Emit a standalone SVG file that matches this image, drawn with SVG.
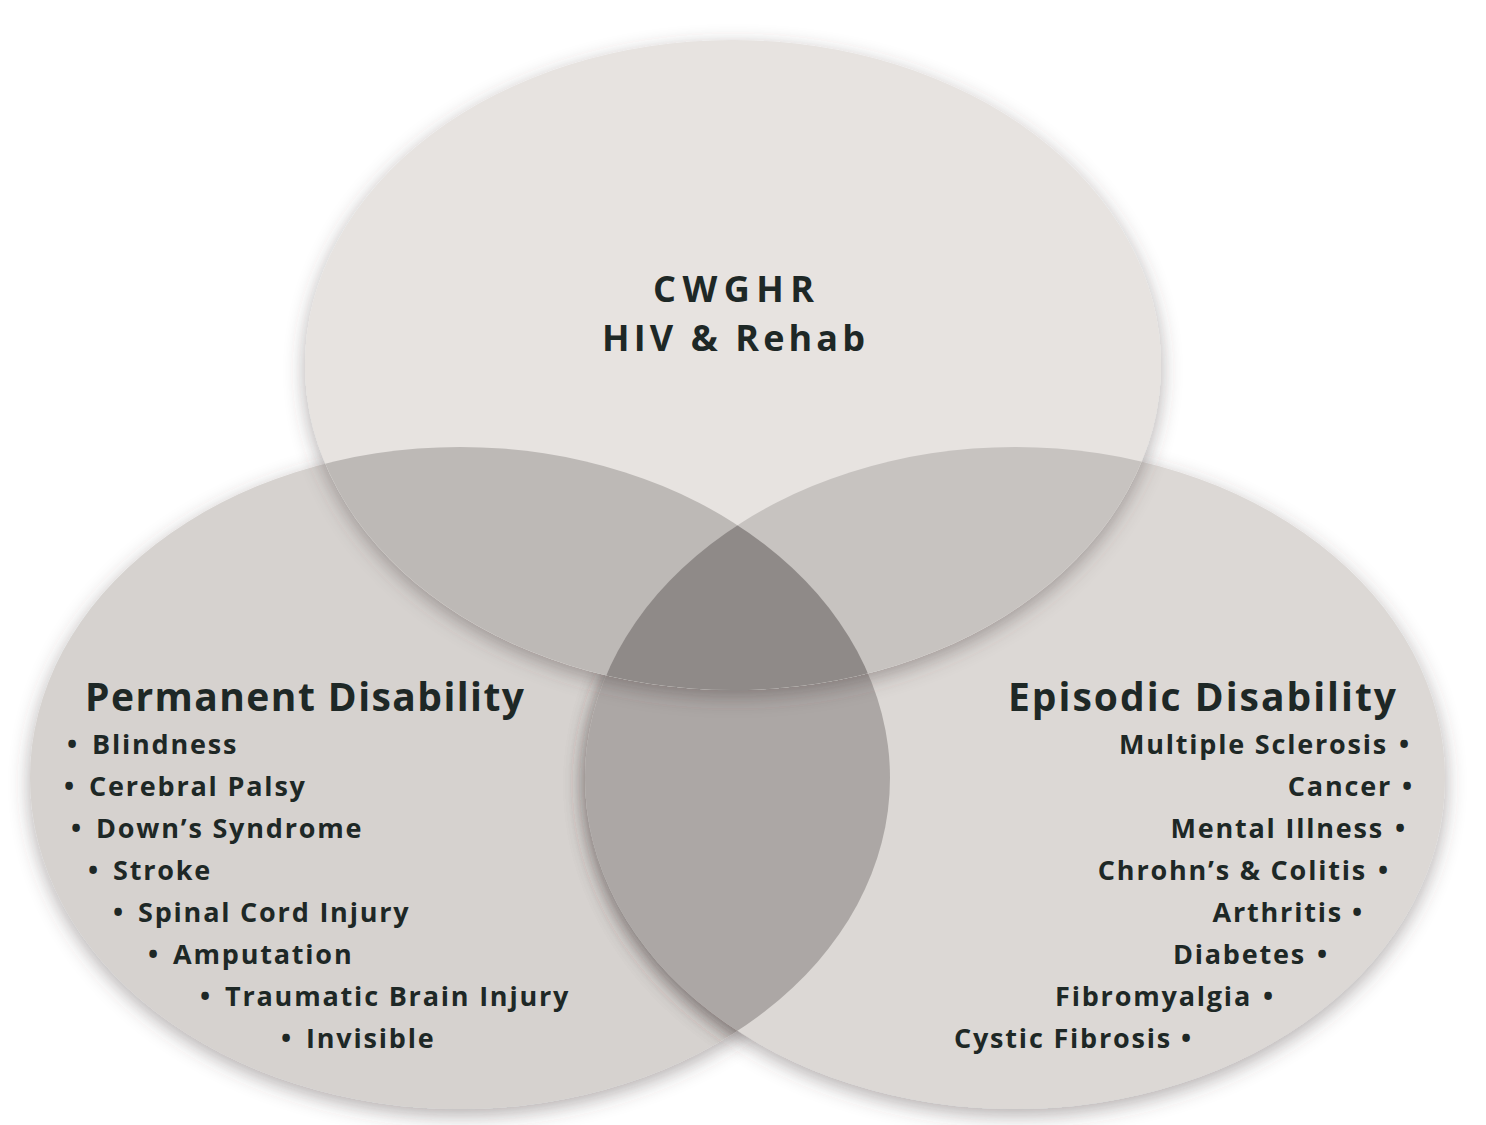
<svg xmlns="http://www.w3.org/2000/svg" width="1486" height="1125" viewBox="0 0 1486 1125">
<style>
.t{font-family:"Open Sans","Liberation Sans",sans-serif;font-weight:700;fill:#1e2826}
.h{font-size:39px;letter-spacing:1px}
.c{font-size:36px;letter-spacing:1px}
.i{font-size:27px;letter-spacing:1.8px}
.r{text-anchor:end}
</style>
<defs>
<filter id="sh" x="-10%" y="-10%" width="120%" height="125%">
<feDropShadow dx="0" dy="6" stdDeviation="10" flood-color="#4a4040" flood-opacity="0.42"/>
</filter>
<clipPath id="cL"><ellipse cx="460" cy="778" rx="430" ry="331"/></clipPath>
<clipPath id="cR"><ellipse cx="1015" cy="778" rx="430" ry="331"/></clipPath>
<clipPath id="cT"><ellipse cx="733" cy="365" rx="428" ry="325"/></clipPath>
</defs>
<rect width="1486" height="1125" fill="#ffffff"/>
<g id="node-left">
<ellipse cx="460" cy="778" rx="430" ry="331" fill="#d6d2cf" filter="url(#sh)"/>
</g>
<g id="node-right">
<ellipse cx="1015" cy="778" rx="430" ry="331" fill="#dcd8d5" filter="url(#sh)"/>
</g>
<g id="overlap-left-right" clip-path="url(#cL)">
<ellipse cx="1015" cy="778" rx="430" ry="331" fill="#aca7a5" filter="url(#sh)"/>
</g>
<g id="node-top">
<ellipse cx="733" cy="365" rx="428" ry="325" fill="#e7e3e0" filter="url(#sh)"/>
</g>
<g id="overlaps">
<g clip-path="url(#cL)"><ellipse cx="733" cy="365" rx="428" ry="325" fill="#bdb9b6"/></g>
<g clip-path="url(#cR)"><ellipse cx="733" cy="365" rx="428" ry="325" fill="#c7c3c0"/></g>
<g clip-path="url(#cL)"><g clip-path="url(#cR)"><ellipse cx="733" cy="365" rx="428" ry="325" fill="#8f8a88"/></g></g>
</g>
<g id="connectors"/>
<g id="label-top">
<text class="t c" x="653" y="302" textLength="162" lengthAdjust="spacing">CWGHR</text>
<text class="t c" x="602" y="351" textLength="264" lengthAdjust="spacing">HIV &amp; Rehab</text>
</g>
<g id="label-left">
<text class="t h" x="85" y="711" textLength="440" lengthAdjust="spacing">Permanent Disability</text>
<text class="t i" x="67" y="754">•<tspan x="92">Blindness</tspan></text>
<text class="t i" x="64" y="796">•<tspan x="89">Cerebral Palsy</tspan></text>
<text class="t i" x="71" y="838">•<tspan x="96">Down’s Syndrome</tspan></text>
<text class="t i" x="88" y="880">•<tspan x="113">Stroke</tspan></text>
<text class="t i" x="113" y="922">•<tspan x="138">Spinal Cord Injury</tspan></text>
<text class="t i" x="148" y="964">•<tspan x="173">Amputation</tspan></text>
<text class="t i" x="200" y="1006">•<tspan x="225">Traumatic Brain Injury</tspan></text>
<text class="t i" x="281" y="1048">•<tspan x="306">Invisible</tspan></text>
</g>
<g id="label-right">
<text class="t h" x="1008" y="711" textLength="389" lengthAdjust="spacing">Episodic Disability</text>
<text class="t i r" x="1388" y="754">Multiple Sclerosis</text><text class="t i" x="1399" y="754">•</text>
<text class="t i r" x="1392" y="796">Cancer</text><text class="t i" x="1402" y="796">•</text>
<text class="t i r" x="1384" y="838">Mental Illness</text><text class="t i" x="1395" y="838">•</text>
<text class="t i r" x="1367" y="880">Chrohn’s &amp; Colitis</text><text class="t i" x="1378" y="880">•</text>
<text class="t i r" x="1343" y="922">Arthritis</text><text class="t i" x="1352" y="922">•</text>
<text class="t i r" x="1306" y="964">Diabetes</text><text class="t i" x="1317" y="964">•</text>
<text class="t i r" x="1252" y="1006">Fibromyalgia</text><text class="t i" x="1263" y="1006">•</text>
<text class="t i r" x="1172" y="1048">Cystic Fibrosis</text><text class="t i" x="1181" y="1048">•</text>
</g>
</svg>
